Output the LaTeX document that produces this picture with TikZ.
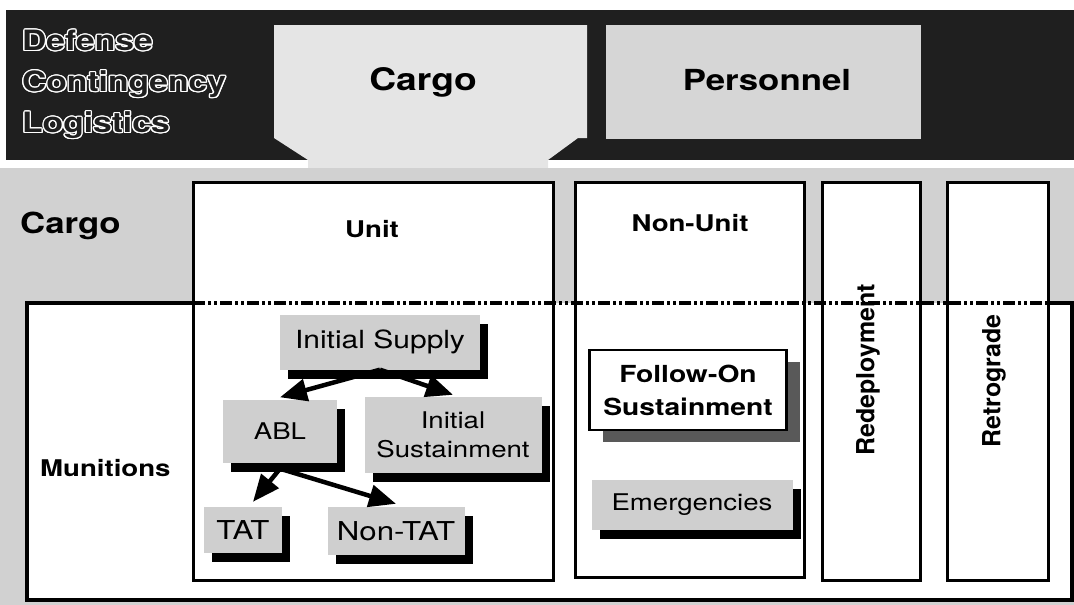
\documentclass[tikz,border=0pt]{standalone}
\usepackage{fontspec}
\setmainfont{TeX Gyre Heros}[FakeStretch=1.2]
\newfontfamily\rotfont{TeX Gyre Heros}
\usepackage{contour}
\contourlength{1.3pt}
\usetikzlibrary{arrows.meta}
\usetikzlibrary{shadows}

\begin{document}
\begin{tikzpicture}[x=1pt,y=-1pt]
\tikzset{shadowbox/.style={fill=black!19, inner sep=0pt, drop shadow={shadow xshift=8pt, shadow yshift=-9pt, fill=black, opacity=1}}}
\tikzset{heading/.style={inner sep=0pt, font=\bfseries\fontsize{23}{28}\selectfont}}
\tikzstyle{myedgestyle} = [line width=4.5pt, -{Triangle[length=27pt,width=22pt]}]
\tikzstyle{column} = [draw, line width=3pt, fill=white]

\useasboundingbox (0,0) rectangle (1074,605);

% banner
\fill [black!88] (6,10) rectangle (1074,160);
\fill [black!10] (274,25) -- (587,25) -- (587,138) -- (578,138) -- (548,160) -- (548,168) -- (308,168) -- (308,160) -- (274,138) -- cycle;
\fill [black!16] (606,25) rectangle (921,139);
\node (title) [anchor=west, align=left, inner sep=0pt, text=black!88, font=\bfseries\fontsize{28}{41}\selectfont] at (22,85) {\contour{white}{Defense}\\\contour{white}{Contingency}\\\contour{white}{Logistics}};
\node (tabcargo) [anchor=base, inner sep=0pt, font=\bfseries\fontsize{31}{36}\selectfont] at (423,90) {Cargo};
\node (personnel) [anchor=base, inner sep=0pt, font=\bfseries\fontsize{29}{34}\selectfont] at (767,90) {Personnel};

% cargo area
\fill [black!18] (0,168) rectangle (1074,605);
\fill [white] (27,303) rectangle (1072,600);
\draw [column] (193,182) rectangle (553,580);
\draw [column] (575,182) rectangle (804,577);
\draw [column] (822,182) rectangle (920,580);
\draw [column] (947,182) rectangle (1048,580);
\draw [black, line width=3.5pt, dash pattern=on 12pt off 3pt on 3pt off 3pt on 3pt off 3pt] (193,303) -- (1048,303);
\draw [black, line width=3.5pt] (193,303) -- (27,303) -- (27,600) -- (1072,600) -- (1072,303) -- (1048,303);

\node (cargo) [anchor=base west, inner sep=0pt, font=\bfseries\fontsize{29}{34}\selectfont] at (20,233) {Cargo};
\node (unit) [heading, anchor=base] at (372,237) {Unit};
\node (nonunit) [heading, anchor=base] at (690,231) {Non-Unit};
\node (munitions) [heading, anchor=base west] at (40,476) {Munitions};
\node (redep) [inner sep=0pt, rotate=90, font=\rotfont\bfseries\fontsize{25}{30}\selectfont] at (868,370) {Redeployment};
\node (retro) [inner sep=0pt, rotate=90, font=\rotfont\bfseries\fontsize{25}{30}\selectfont] at (994,381) {Retrograde};

% unit boxes
\node (isup) [shadowbox, minimum width=200pt, minimum height=55pt, font=\fontsize{25}{30}\selectfont] at (380,342) {Initial Supply};
\node (abl) [shadowbox, minimum width=114pt, minimum height=63pt, font=\fontsize{23}{28}\selectfont] at (280,431) {ABL};
\node (isus) [shadowbox, minimum width=177pt, minimum height=76pt, align=center, font=\fontsize{23}{29}\selectfont] at (453,435) {Initial\\Sustainment};
\node (tat) [shadowbox, minimum width=78pt, minimum height=46pt, font=\fontsize{26}{30}\selectfont] at (243,530) {TAT};
\node (ntat) [shadowbox, minimum width=137pt, minimum height=48pt, font=\fontsize{26}{30}\selectfont] at (396,531) {Non-TAT};

\draw [myedgestyle] (isup.south) -- ([yshift=2pt]abl.north);
\draw [myedgestyle] (isup.south) -- ([yshift=2pt]isus.north);
\draw [myedgestyle] ([yshift=-6pt]abl.south) -- ([xshift=10pt,yshift=5pt]tat.north);
\draw [myedgestyle] ([yshift=-6pt]abl.south) -- ([yshift=3pt]ntat.north);

% non-unit boxes
\node (follow) [draw, line width=2.5pt, fill=white, inner sep=0pt, minimum width=197pt, minimum height=80pt, align=center, font=\bfseries\fontsize{23.5}{33}\selectfont, drop shadow={shadow xshift=13pt, shadow yshift=-12pt, fill=black!65, opacity=1}] at (688,390) {Follow-On\\Sustainment};
\node (emerg) [shadowbox, minimum width=201pt, minimum height=50pt, font=\fontsize{23}{28}\selectfont] at (692,505) {Emergencies};
\end{tikzpicture}
\end{document}
